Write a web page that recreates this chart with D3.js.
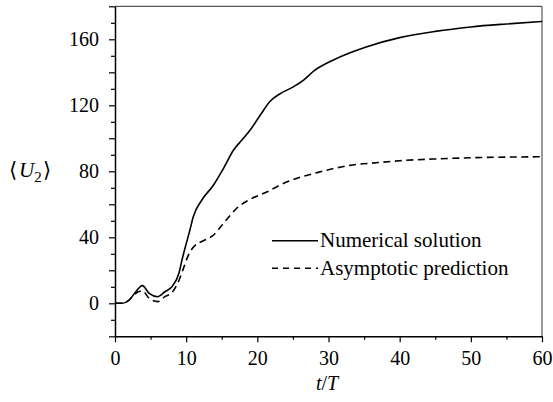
<!DOCTYPE html>
<html><head><meta charset="utf-8">
<script src="https://cdn.jsdelivr.net/npm/d3@7"></script>
</head>
<body style="margin:0;background:#fff">
<svg id="c" width="553" height="402"></svg>
<script>
// ---- data ----
const tNumerical = [0, 1, 2, 3, 3.85, 4.8, 6, 7, 8, 9, 9.4, 10, 10.5, 11, 12.2, 13.85, 15.25, 16.66, 17.84, 19, 20.4, 21.8, 23.2, 25.1, 26.5, 28, 30.7, 35.4, 40, 45, 50, 55, 60];
const uNumerical = [0, 0, 2, 7.5, 10.7, 6, 4, 7, 10, 18.5, 26, 36, 44, 52.5, 62.6, 71.7, 81.8, 92.9, 99, 105, 114, 122.5, 127, 131.3, 135.3, 141, 147.5, 155.5, 161, 164.8, 167.5, 169.3, 170.8];
const tAsymptotic = [0, 1, 2, 2.6, 3.85, 4.8, 6, 7, 8, 9, 9.6, 10.3, 11.5, 12.2, 13.85, 15.25, 17.1, 19.25, 21.4, 23.2, 25.6, 28.4, 33, 37, 40, 45, 50, 55, 60];
const uAsymptotic = [0, 0, 2, 5, 7.5, 3, 1, 4, 6.5, 14, 21, 29, 36, 37.5, 41.4, 48.5, 57.6, 63.6, 67.6, 71.7, 75.8, 79.2, 83.6, 85.3, 86.4, 87.5, 88.2, 88.6, 88.8];
const xTickLabels = [0, 10, 20, 30, 40, 50, 60];
const yTickLabels = [0, 40, 80, 120, 160];
const seriesNames = ["Numerical solution", "Asymptotic prediction"];

const FONT = "'Liberation Serif'";
const svg = d3.select("#c");
const L = 115, R = 542, T = 6.3, B = 336.3;
const x = d3.scaleLinear().domain([0, 60]).range([L, R]);
const y = d3.scaleLinear().domain([-20, 180]).range([B, T]);

// frame (top/right)
svg.append("line").attr("x1", L).attr("x2", R).attr("y1", T).attr("y2", T).attr("stroke", "#555").attr("stroke-width", 1.2);
svg.append("line").attr("x1", R).attr("x2", R).attr("y1", T).attr("y2", B).attr("stroke", "#555").attr("stroke-width", 1.2);

function styleAxis(g){
  g.select(".domain").attr("stroke", "#000").attr("stroke-width", 1.5);
  g.selectAll(".tick line").attr("stroke", "#000").attr("stroke-width", 1.2);
  g.selectAll("text").style("font-family", FONT).style("font-size", "20px").attr("fill", "#000");
}

// x axis
const xMajor = svg.append("g").attr("transform", `translate(0,${B})`)
  .call(d3.axisBottom(x).tickValues(xTickLabels).tickSize(6).tickSizeOuter(0).tickPadding(9).tickFormat(d3.format("d")));
styleAxis(xMajor);
const xMinor = svg.append("g").attr("transform", `translate(0,${B})`)
  .call(d3.axisBottom(x).tickValues(d3.range(5, 60, 10)).tickSize(3.5).tickSizeOuter(0).tickFormat(""));
styleAxis(xMinor); xMinor.select(".domain").remove();

// y axis
const yMajor = svg.append("g").attr("transform", `translate(${L},0)`)
  .call(d3.axisLeft(y).tickValues(d3.range(-20, 181, 20)).tickSize(6).tickSizeOuter(0).tickPadding(10)
    .tickFormat(d => yTickLabels.includes(d) ? d : ""));
styleAxis(yMajor);
const yMinor = svg.append("g").attr("transform", `translate(${L},0)`)
  .call(d3.axisLeft(y).tickValues(d3.range(-10, 180, 20)).tickSize(4).tickSizeOuter(0).tickFormat(""));
styleAxis(yMinor); yMinor.select(".domain").remove();

// lines
const line = d3.line().x(d => x(d[0])).y(d => y(d[1])).curve(d3.curveMonotoneX);
svg.append("path").datum(tNumerical.map((t, i) => [t, uNumerical[i]]))
  .attr("d", line).attr("fill", "none").attr("stroke", "#000").attr("stroke-width", 1.6);
svg.append("path").datum(tAsymptotic.map((t, i) => [t, uAsymptotic[i]]))
  .attr("d", line).attr("fill", "none").attr("stroke", "#000").attr("stroke-width", 1.6)
  .attr("stroke-dasharray", "7,4.5");

// legend
const leg = [{y: 240.7, dash: null}, {y: 268.3, dash: "6,5"}];
leg.forEach((l, i) => {
  svg.append("line").attr("x1", 272).attr("x2", 318).attr("y1", l.y).attr("y2", l.y)
    .attr("stroke", "#000").attr("stroke-width", 1.6).attr("stroke-dasharray", l.dash);
  svg.append("text").attr("x", 320).attr("y", l.y + 6.5).style("font-family", FONT).style("font-size", "21px")
    .attr("fill", "#000").text(seriesNames[i]);
});

// axis labels
const xl = svg.append("text").attr("x", 327).attr("y", 390).attr("text-anchor", "middle")
  .style("font-family", FONT).style("font-size", "20px");
xl.append("tspan").style("font-style", "italic").text("t");
xl.append("tspan").text("/");
xl.append("tspan").style("font-style", "italic").text("T");

const yl = svg.append("text").attr("x", 9).attr("y", 177).style("font-family", FONT).style("font-size", "21px");
yl.append("tspan").text("\u27E8");
yl.append("tspan").attr("dx", 2).style("font-style", "italic").text("U");
yl.append("tspan").attr("dy", 5).attr("dx", 0).style("font-size", "15px").text("2");
yl.append("tspan").attr("dy", -5).attr("dx", 1).text("\u27E9");
</script>
</body></html>
